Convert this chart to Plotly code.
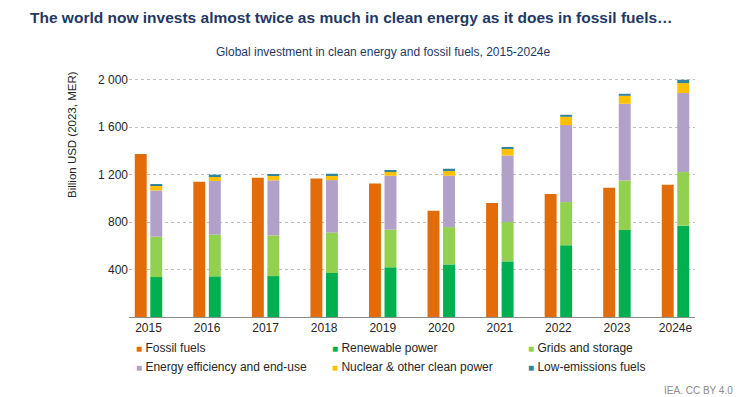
import numpy as np
import plotly.graph_objects as go

years = ["2015", "2016", "2017", "2018", "2019", "2020", "2021", "2022", "2023", "2024e"]
fossil = [1375, 1140, 1175, 1168, 1126, 896, 961, 1037, 1090, 1115]
renewable = [337, 343, 345, 371, 419, 443, 469, 604, 733, 770]
grids = [340, 351, 343, 340, 317, 315, 332, 365, 418, 452]
efficiency = [390, 452, 464, 443, 455, 433, 561, 649, 647, 666]
nuclear = [43, 42, 39, 42, 39, 45, 59, 70, 67, 84]
low_emissions = [8, 12, 11, 12, 9, 14, 12, 17, 17, 28]

names = ["Fossil fuels", "Renewable power", "Grids and storage",
         "Energy efficiency and end-use", "Nuclear & other clean power", "Low-emissions fuels"]
colors = ["#E36C0A", "#00B050", "#92D050", "#B1A0C7", "#FFC000", "#31859C"]
# legend column of each entry (three columns, two rows)
legend_ids = ["legend", "legend2", "legend3", "legend", "legend2", "legend3"]

FONT = "Liberation Sans, Arial, sans-serif"
# the page body has an 8px margin, so the figure is 8px smaller than the window
W, H = 744, 389
PL, PR, PT, PB = 121, 57, 70, 80


def px_x(px):
    return (px - PL) / (W - PL - PR)


def px_y(py_top):
    return (H - py_top - PB) / (H - PT - PB)


fig = go.Figure()

fig.add_trace(go.Bar(x=years, y=fossil, name=names[0], marker_color=colors[0],
                     marker_line_width=0, offsetgroup="fossil", showlegend=False))

clean = [renewable, grids, efficiency, nuclear, low_emissions]
base = np.zeros(len(years))
for vals, nm, col in zip(clean, names[1:], colors[1:]):
    fig.add_trace(go.Bar(x=years, y=vals, base=base.copy(), name=nm, marker_color=col,
                         marker_line_width=0, offsetgroup="clean", showlegend=False))
    base = base + np.array(vals)

# legend entries (coloured square drawn in the label text)
for nm, col, lg in zip(names, colors, legend_ids):
    fig.add_trace(go.Scatter(
        x=[years[0]], y=[None], mode="markers",
        marker=dict(color="rgba(0,0,0,0)", size=1, line=dict(width=0)),
        name=f'<span style="color:{col};font-size:10px">■</span> {nm}',
        legend=lg, showlegend=True, hoverinfo="skip"))

legend_common = dict(orientation="v", xanchor="left", y=px_y(325), yanchor="top",
                     itemwidth=30, font=dict(size=12, color="#262626"),
                     bgcolor="rgba(0,0,0,0)", itemclick=False, itemdoubleclick=False)

fig.update_layout(
    width=W, height=H,
    margin=dict(l=PL, r=PR, t=PT, b=PB),
    paper_bgcolor="white", plot_bgcolor="white",
    font=dict(family=FONT, size=12, color="#262626"),
    separators=". ",
    barmode="group", bargap=0.47, bargroupgap=0.23,
    title=dict(text="<b>The world now invests almost twice as much in clean energy as it does in fossil fuels…</b>",
               x=22 / W, xanchor="left", xref="container",
               y=1 - 10 / H, yanchor="middle", yref="container",
               font=dict(family=FONT, size=15.5, color="#1F3864")),
    xaxis=dict(type="category", range=[-0.333, 9.333], showgrid=False,
               showline=True, linecolor="#8C8C8C", linewidth=1, ticks="",
               tickfont=dict(size=12, color="#262626")),
    yaxis=dict(range=[0, 2015], tickvals=[400, 800, 1200, 1600, 2000], tickformat=",d",
               showgrid=True, gridcolor="#BFBFBF", griddash="dot", gridwidth=1,
               zeroline=False, showline=False, ticks="",
               tickfont=dict(size=12, color="#262626")),
    legend=dict(x=px_x(88), **legend_common),
    legend2=dict(x=px_x(284), **legend_common),
    legend3=dict(x=px_x(480), **legend_common),
    annotations=[
        dict(text="Global investment in clean energy and fossil fuels, 2015-2024e",
             x=px_x(375), y=px_y(44), xref="paper", yref="paper",
             xanchor="center", yanchor="middle", showarrow=False,
             font=dict(size=12, color="#1F3864")),
        dict(text="Billion USD (2023, MER)", textangle=-90,
             x=px_x(64), y=px_y(127), xref="paper", yref="paper",
             xanchor="center", yanchor="middle", showarrow=False,
             font=dict(size=11.5, color="#262626")),
        dict(text="IEA. CC BY 4.0", x=px_x(727), y=px_y(382), xref="paper", yref="paper",
             xanchor="right", yanchor="middle", showarrow=False,
             font=dict(size=10, color="#8C8C8C")),
    ],
)

fig.write_html("out.html")
